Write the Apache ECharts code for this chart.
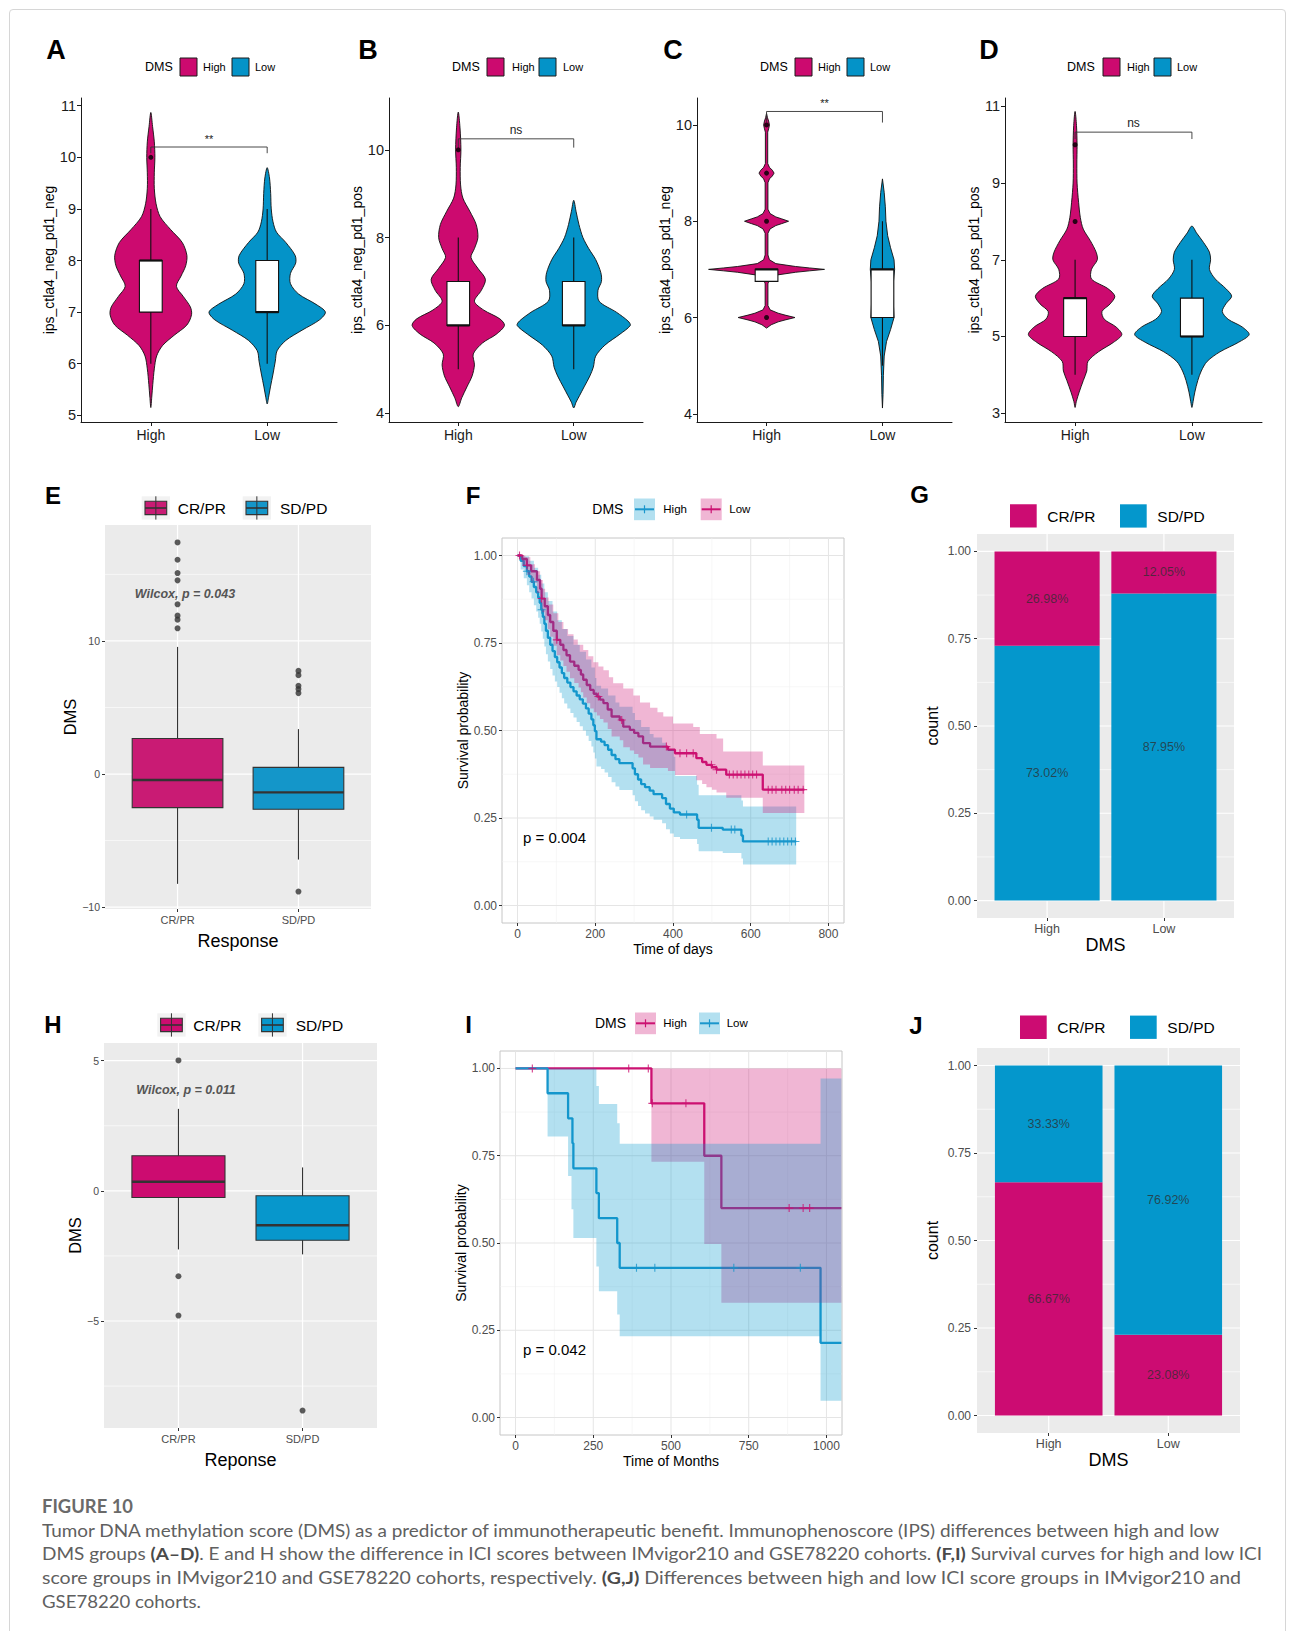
<!DOCTYPE html>
<html>
<head>
<meta charset="utf-8">
<title>Figure 10</title>
<script src="https://cdn.jsdelivr.net/npm/echarts@6.0.0/dist/echarts.min.js"></script>
<style>
  html, body { margin: 0; padding: 0; background: #fff; overflow: hidden; }
  #frame { position: absolute; left: 9px; top: 9px; width: 1277px; height: 1700px; border: 1px solid #d6d6d6; border-radius: 4px; box-sizing: border-box; }
  #chart { position: absolute; left: 0; top: 0; width: 1295px; height: 1631px; }
  .cap { position: absolute; left: 42px; font-family: Lato, 'Open Sans', sans-serif; font-size: 17px; line-height: 23px; color: #606060; white-space: nowrap; transform-origin: 0 50%; }
  .cap b { font-weight: 700; color: #4a4a4a; }
  #fig { top: 1494px; font-size: 19px; line-height: 24px; font-weight: 700; color: #6a6a6a; }
</style>
</head>
<body>
<div id="frame"></div>
<div id="chart"></div>
<div class="cap" id="fig" data-w="91">FIGURE 10</div>
<div class="cap" style="top:1519px" data-w="1177">Tumor DNA methylation score (DMS) as a predictor of immunotherapeutic benefit. Immunophenoscore (IPS) differences between high and low</div>
<div class="cap" style="top:1542px" data-w="1220">DMS groups <b>(A–D)</b>. E and H show the difference in ICI scores between IMvigor210 and GSE78220 cohorts. <b>(F,I)</b> Survival curves for high and low ICI</div>
<div class="cap" style="top:1566px" data-w="1199">score groups in IMvigor210 and GSE78220 cohorts, respectively. <b>(G,J)</b> Differences between high and low ICI score groups in IMvigor210 and</div>
<div class="cap" style="top:1590px" data-w="159">GSE78220 cohorts.</div>
<script>
// ---------- categories ----------
const dmsGroups = ['High', 'Low']
const respGroups = ['CR/PR', 'SD/PD']

// ---------- A-D : violin outlines, [value, half width] from top to bottom ----------
const violinA_high = [[10.87,0],[10.6,0.015],[10.3,0.03],[10.0,0.035],[9.7,0.03],[9.4,0.03],[9.1,0.045],[8.85,0.08],[8.6,0.17],[8.35,0.27],[8.1,0.31],[7.9,0.3],[7.7,0.26],[7.5,0.22],[7.3,0.28],[7.1,0.34],[6.95,0.35],[6.75,0.31],[6.55,0.2],[6.35,0.1],[6.15,0.05],[5.9,0.03],[5.6,0.017],[5.35,0.008],[5.15,0]]
const violinA_low = [[9.8,0],[9.6,0.02],[9.3,0.03],[9.0,0.035],[8.75,0.05],[8.55,0.08],[8.35,0.16],[8.1,0.24],[7.95,0.245],[7.75,0.2],[7.55,0.2],[7.35,0.27],[7.15,0.42],[7.0,0.5],[6.85,0.45],[6.65,0.3],[6.45,0.16],[6.25,0.085],[6.05,0.07],[5.8,0.05],[5.55,0.028],[5.35,0.012],[5.22,0]]
const violinB_high = [[10.86,0],[10.5,0.015],[10.0,0.023],[9.6,0.017],[9.2,0.02],[8.9,0.04],[8.6,0.1],[8.3,0.155],[8.0,0.17],[7.75,0.14],[7.55,0.11],[7.3,0.17],[7.05,0.235],[6.8,0.2],[6.55,0.14],[6.35,0.22],[6.15,0.36],[6.0,0.4],[5.8,0.33],[5.6,0.21],[5.35,0.13],[5.1,0.14],[4.85,0.12],[4.6,0.075],[4.35,0.03],[4.15,0]]
const violinB_low = [[8.85,0],[8.6,0.02],[8.3,0.045],[8.0,0.08],[7.75,0.13],[7.5,0.19],[7.2,0.235],[7.0,0.24],[6.8,0.21],[6.55,0.22],[6.3,0.37],[6.1,0.47],[6.0,0.49],[5.8,0.4],[5.55,0.27],[5.3,0.19],[5.05,0.17],[4.85,0.14],[4.6,0.09],[4.4,0.05],[4.25,0.02],[4.12,0]]
const violinC_high = [[10.24,0],[10.15,0.008],[10.08,0.018],[10.0,0.025],[9.92,0.018],[9.85,0.01],[9.2,0.01],[9.12,0.025],[9.06,0.05],[9.0,0.065],[8.94,0.05],[8.88,0.025],[8.8,0.012],[8.25,0.012],[8.16,0.03],[8.09,0.08],[8.05,0.13],[8.0,0.19],[7.95,0.13],[7.91,0.08],[7.84,0.03],[7.75,0.012],[7.3,0.012],[7.2,0.025],[7.12,0.08],[7.06,0.25],[7.03,0.37],[7.0,0.5],[6.97,0.37],[6.94,0.25],[6.88,0.08],[6.8,0.025],[6.7,0.012],[6.25,0.012],[6.16,0.03],[6.09,0.1],[6.05,0.16],[6.0,0.245],[5.95,0.16],[5.91,0.1],[5.85,0.04],[5.78,0]]
const violinC_low = [[8.88,0],[8.6,0.015],[8.3,0.025],[8.0,0.03],[7.7,0.045],[7.45,0.07],[7.2,0.1],[7.0,0.105],[6.75,0.095],[6.5,0.09],[6.25,0.095],[6.0,0.1],[5.75,0.07],[5.5,0.035],[5.2,0.015],[4.8,0.008],[4.4,0.005],[4.12,0]]
const violinD_high = [[10.87,0],[10.5,0.012],[10.0,0.017],[9.5,0.015],[9.0,0.017],[8.5,0.03],[8.1,0.045],[7.8,0.07],[7.5,0.13],[7.2,0.18],[7.0,0.19],[6.75,0.14],[6.5,0.14],[6.25,0.28],[6.05,0.34],[5.85,0.3],[5.65,0.23],[5.45,0.25],[5.25,0.35],[5.05,0.4],[4.85,0.33],[4.6,0.2],[4.35,0.11],[4.1,0.1],[3.85,0.07],[3.55,0.035],[3.3,0.01],[3.15,0]]
const violinD_low = [[7.88,0],[7.7,0.04],[7.45,0.1],[7.2,0.15],[7.0,0.16],[6.75,0.15],[6.5,0.2],[6.25,0.29],[6.05,0.34],[5.85,0.29],[5.65,0.26],[5.45,0.31],[5.25,0.43],[5.05,0.49],[4.85,0.4],[4.6,0.24],[4.35,0.13],[4.1,0.08],[3.85,0.05],[3.55,0.025],[3.3,0.01],[3.15,0]]

// box stats: [q1, median, q3, lower whisker, upper whisker]
const boxA_high = [7, 8, 8, 6, 9]
const boxA_low = [7, 7, 8, 6, 9]
const boxB_high = [6, 6, 7, 5, 8]
const boxB_low = [6, 6, 7, 5, 8]
const boxC_high = [6.75, 7, 7, 6.75, 7]
const boxC_low = [6, 7, 7, 5, 8]
const boxD_high = [5, 6, 6, 4, 7]
const boxD_low = [5, 5, 6, 4, 7]
const outA_high = [10]
const outB_high = [10]
const outC_high = [6, 8, 9, 10]
const outD_high = [8, 10]
// significance: [label, bracket value, drop value]
const sigA = ['**', 10.2, 10.08]
const sigB = ['ns', 10.25, 10.05]
const sigC = ['**', 10.28, 10.05]
const sigD = ['ns', 10.33, 10.15]
const yTicksA = [5, 6, 7, 8, 9, 10, 11]
const yTicksB = [4, 6, 8, 10]
const yTicksC = [4, 6, 8, 10]
const yTicksD = [3, 5, 7, 9, 11]

// ---------- E / H : DMS by response ----------
const boxE_crpr = [-2.525, -0.45, 2.675, -8.25, 9.55]
const boxE_sdpd = [-2.65, -1.375, 0.5, -6.425, 3.375]
const outE_crpr = [17.4, 16.1, 15.1, 14.55, 12.75, 11.9, 11.6, 10.95]
const outE_sdpd = [7.75, 7.43, 6.63, 6.38, 6.08, -8.83]
const boxH_crpr = [-0.257, 0.347, 1.35, -2.25, 3.15]
const boxH_sdpd = [-1.9, -1.32, -0.19, -2.44, 0.9]
const outH_crpr = [5.01, -3.28, -4.79]
const outH_sdpd = [-8.44]
const yTicksE = [-10, 0, 10]
const yMinorE = [-5, 5, 15]
const yTicksH = [-5, 0, 5]
const yMinorH = [-7.5, -2.5, 2.5]

// ---------- F : survival (days), steps [time, survival] ----------
const kmF_high = [[0,1],[8,0.985],[16,0.97],[24,0.955],[30,0.94],[36,0.925],[42,0.91],[48,0.895],[53,0.88],[57,0.865],[61,0.845],[65,0.825],[69,0.805],[73,0.785],[78,0.765],[84,0.745],[90,0.727],[96,0.71],[102,0.695],[108,0.68],[114,0.664],[120,0.65],[128,0.637],[136,0.624],[144,0.612],[152,0.6],[160,0.589],[168,0.577],[176,0.563],[183,0.548],[190,0.532],[195,0.515],[199,0.498],[203,0.475],[215,0.468],[224,0.458],[233,0.445],[242,0.43],[252,0.418],[262,0.407],[296,0.392],[302,0.375],[310,0.36],[318,0.347],[328,0.338],[340,0.328],[350,0.318],[372,0.307],[382,0.29],[392,0.277],[402,0.266],[418,0.26],[462,0.245],[466,0.222],[528,0.217],[576,0.2],[580,0.183],[717,0.183]]
const kmF_highUpper = [[0,1],[16,0.998],[30,0.985],[42,0.965],[53,0.945],[61,0.92],[69,0.895],[78,0.87],[90,0.84],[102,0.815],[114,0.79],[128,0.77],[144,0.745],[160,0.725],[176,0.703],[190,0.68],[199,0.65],[203,0.628],[215,0.62],[233,0.6],[252,0.58],[262,0.568],[296,0.55],[302,0.53],[318,0.51],[340,0.49],[350,0.48],[372,0.465],[382,0.445],[402,0.425],[406,0.37],[462,0.345],[466,0.315],[576,0.3],[580,0.283],[717,0.283]]
const kmF_highLower = [[0,1],[8,0.96],[16,0.935],[24,0.915],[30,0.895],[36,0.877],[42,0.858],[48,0.84],[53,0.822],[57,0.805],[61,0.783],[65,0.762],[69,0.74],[73,0.718],[78,0.697],[84,0.676],[90,0.657],[96,0.64],[102,0.624],[108,0.608],[114,0.592],[120,0.577],[128,0.563],[136,0.55],[144,0.537],[152,0.524],[160,0.512],[168,0.5],[176,0.485],[183,0.47],[190,0.454],[195,0.437],[199,0.42],[203,0.397],[215,0.39],[224,0.38],[233,0.367],[242,0.352],[252,0.34],[262,0.33],[296,0.315],[302,0.298],[310,0.284],[318,0.272],[328,0.263],[340,0.254],[350,0.245],[372,0.235],[382,0.218],[392,0.206],[402,0.196],[418,0.19],[462,0.176],[466,0.155],[528,0.15],[576,0.134],[580,0.117],[717,0.117]]
const kmF_low = [[0,1],[12,0.99],[24,0.972],[35,0.955],[50,0.93],[58,0.905],[62,0.877],[70,0.855],[78,0.83],[84,0.81],[92,0.785],[101,0.759],[110,0.745],[118,0.73],[126,0.715],[135,0.697],[146,0.685],[157,0.673],[163,0.66],[169,0.645],[178,0.63],[187,0.616],[196,0.605],[204,0.597],[212,0.588],[221,0.578],[232,0.56],[242,0.54],[263,0.53],[272,0.511],[289,0.502],[300,0.493],[311,0.483],[323,0.464],[341,0.454],[387,0.445],[405,0.435],[460,0.421],[475,0.41],[486,0.402],[500,0.395],[512,0.388],[537,0.374],[631,0.331],[738,0.331]]
const kmF_lowUpper = [[0,1],[20,0.995],[33,0.975],[45,0.955],[58,0.93],[65,0.905],[71,0.88],[80,0.86],[92,0.835],[105,0.81],[118,0.79],[130,0.775],[144,0.76],[155,0.745],[169,0.73],[182,0.712],[195,0.695],[208,0.683],[221,0.672],[235,0.652],[246,0.635],[272,0.62],[298,0.6],[315,0.58],[341,0.565],[360,0.552],[375,0.54],[400,0.52],[452,0.51],[469,0.49],[512,0.477],[529,0.44],[631,0.4],[738,0.4]]
const kmF_lowLower = [[0,1],[12,0.97],[24,0.945],[35,0.922],[50,0.893],[58,0.866],[62,0.838],[70,0.815],[78,0.789],[84,0.768],[92,0.742],[101,0.715],[110,0.7],[118,0.684],[126,0.668],[135,0.649],[146,0.636],[157,0.623],[163,0.609],[169,0.594],[178,0.578],[187,0.563],[196,0.552],[204,0.543],[212,0.533],[221,0.523],[232,0.504],[242,0.483],[263,0.472],[272,0.452],[289,0.443],[300,0.433],[311,0.423],[323,0.403],[341,0.393],[387,0.384],[405,0.373],[460,0.358],[475,0.347],[486,0.338],[500,0.331],[512,0.323],[537,0.308],[631,0.264],[738,0.264]]
const censF_high = [24, 41, 62, 435, 499, 550, 559, 645, 655, 665, 675, 685, 695, 705, 715]
const censF_low = [5, 24, 62, 101, 208, 268, 383, 418, 435, 452, 499, 512, 545, 555, 565, 575, 585, 595, 605, 615, 645, 655, 665, 680, 690, 700, 712, 722, 735]
const xTicksF = [0, 200, 400, 600, 800]
const xMinorF = [100, 300, 500, 700]

// ---------- I : survival (months) ----------
const kmI_high = [[0,1],[437,0.9],[607,0.75],[662,0.6],[1048,0.6]]
const kmI_highUpper = [[437,1],[1048,1]]
const kmI_highLower = [[437,0.733],[607,0.497],[662,0.329],[1048,0.329]]
const kmI_low = [[0,1],[103,0.929],[169,0.857],[183,0.786],[186,0.714],[260,0.643],[268,0.571],[327,0.5],[335,0.429],[981,0.214],[1048,0.214]]
const kmI_lowUpper = [[0,1],[260,0.95],[268,0.898],[327,0.843],[335,0.784],[981,0.971],[1048,0.971]]
const kmI_lowLower = [[0,1],[103,0.805],[169,0.692],[180,0.597],[186,0.514],[260,0.433],[268,0.362],[327,0.295],[335,0.233],[981,0.048],[1048,0.048]]
const censI_high = [54, 364, 427, 440, 548, 880, 925, 946]
const censI_low = [389, 448, 702, 916]
const xTicksI = [0, 250, 500, 750, 1000]
const xMinorI = [125, 375, 625, 875]
const yTicksKM = [0, 0.25, 0.5, 0.75, 1]
const yMinorKM = [0.125, 0.375, 0.625, 0.875]

// ---------- G / J : response proportions (%) ----------
const propG_crpr = [26.98, 12.05]
const propG_sdpd = [73.02, 87.95]
const propJ_crpr = [66.67, 23.08]
const propJ_sdpd = [33.33, 76.92]
const yTicksProp = [0, 0.25, 0.5, 0.75, 1]
const yMinorProp = [0.125, 0.375, 0.625, 0.875]

// ---------- drawing ----------
const SANS = "'Liberation Sans', Arial, Helvetica, sans-serif"
const NARROW = "'Liberation Sans Narrow', 'Liberation Sans', Arial, sans-serif"
const PLUS = 'path://M4.3,0H5.7V4.3H10V5.7H5.7V10H4.3V5.7H0V4.3H4.3Z'
const minus = v => (v < 0 ? '\u2212' + (-v) : String(v))

const grids = []
const xAxes = []
const yAxes = []
const series = []
const graphics = []

function addGrid (box, extra) {
  grids.push(Object.assign({ left: box[0], top: box[1], width: box[2], height: box[3], containLabel: false }, extra || {}))
  return grids.length - 1
}

function valueAxis (g, min, max, ticks, fmt, o) {
  return {
    type: 'value', gridIndex: g, min: min, max: max,
    axisLine: { show: !!o.line, onZero: false, lineStyle: { color: '#1a1a1a', width: 1 } },
    axisTick: { show: true, customValues: ticks, length: o.tickLen || 3, lineStyle: { color: o.tickColor || '#333', width: 1 } },
    axisLabel: { show: true, customValues: ticks, formatter: fmt, color: o.labelColor || '#4d4d4d', fontSize: o.labelSize || 11, fontFamily: o.labelFont || SANS, margin: o.margin || 5 },
    splitLine: { show: false },
    name: o.name || '', nameLocation: 'middle', nameGap: o.nameGap || 20,
    nameTextStyle: { fontSize: o.nameSize || 14, color: '#000', fontFamily: SANS }
  }
}

function gridLines (g, xr, yr, xMaj, xMin, yMaj, yMin, cMaj, cMin, wMaj, wMin) {
  const data = []
  xMaj.forEach(v => data.push([0, v, 1]))
  xMin.forEach(v => data.push([0, v, 0]))
  yMaj.forEach(v => data.push([1, v, 1]))
  yMin.forEach(v => data.push([1, v, 0]))
  // minor first so majors lie on top
  data.sort((a, b) => a[2] - b[2])
  return {
    type: 'custom', xAxisIndex: g, yAxisIndex: g, z: 1, silent: true, data: data,
    renderItem: (params, api) => {
      const d = data[params.dataIndex]
      const a = d[0] === 0 ? api.coord([d[1], yr[0]]) : api.coord([xr[0], d[1]])
      const b = d[0] === 0 ? api.coord([d[1], yr[1]]) : api.coord([xr[1], d[1]])
      return { type: 'line', shape: { x1: a[0], y1: a[1], x2: b[0], y2: b[1] }, style: { stroke: d[2] ? cMaj : cMin, lineWidth: d[2] ? wMaj : wMin } }
    }
  }
}

function gText (x, y, text, size, o) {
  o = o || {}
  const al = o.align || 'left'
  graphics.push({
    type: 'text', x: x, y: y, z: 50, silent: true,
    style: { text: text, fill: o.color || '#000', font: (o.style || 'normal') + ' ' + (o.weight || 'normal') + ' ' + size + 'px ' + (o.family || SANS), align: al, verticalAlign: 'middle', textAlign: al, textVerticalAlign: 'middle' }
  })
}
function gRect (x, y, w, h, fill, stroke, lw) {
  graphics.push({ type: 'rect', z: 50, silent: true, shape: { x: x, y: y, width: w, height: h }, style: { fill: fill, stroke: stroke || 'none', lineWidth: lw || 0 } })
}
function gLine (x1, y1, x2, y2, color, lw) {
  graphics.push({ type: 'line', z: 51, silent: true, shape: { x1: x1, y1: y1, x2: x2, y2: y2 }, style: { stroke: color, lineWidth: lw } })
}

// box glyph shared by the violin and response panels
function boxSeries (g, stats, half, fills, stroke, medW) {
  return {
    type: 'custom', xAxisIndex: g, yAxisIndex: g, z: 4, silent: true,
    data: stats.map((s, i) => [i + 1].concat(s)),
    renderItem: (params, api) => {
      const x = api.value(0)
      const q1 = api.value(1); const md = api.value(2); const q3 = api.value(3); const lo = api.value(4); const hi = api.value(5)
      const a = api.coord([x - half, q3]); const b = api.coord([x + half, q1])
      const t = api.coord([x, hi]); const u = api.coord([x, lo])
      const m1 = api.coord([x - half, md]); const m2 = api.coord([x + half, md])
      return {
        type: 'group',
        children: [
          { type: 'line', shape: { x1: t[0], y1: t[1], x2: u[0], y2: u[1] }, style: { stroke: stroke, lineWidth: 1.1 } },
          { type: 'rect', shape: { x: a[0], y: a[1], width: b[0] - a[0], height: b[1] - a[1] }, style: { fill: fills[params.dataIndex], stroke: stroke, lineWidth: 1.1 } },
          { type: 'line', shape: { x1: m1[0], y1: m1[1], x2: m2[0], y2: m2[1] }, style: { stroke: stroke, lineWidth: medW } }
        ]
      }
    }
  }
}

// ---- A-D violins ----
const violinPanels = [
  { box: [81, 98, 256, 324], y: [4.87, 11.15], ticks: yTicksA, name: 'ips_ctla4_neg_pd1_neg', prof: [violinA_high, violinA_low], boxes: [boxA_high, boxA_low], outs: [outA_high, []], sig: sigA, smooth: 0.3, letter: ['A', 56, 50], lg: [145, 180, 203, 232, 255] },
  { box: [389, 98, 254, 324], y: [3.8, 11.18], ticks: yTicksB, name: 'ips_ctla4_neg_pd1_pos', prof: [violinB_high, violinB_low], boxes: [boxB_high, boxB_low], outs: [outB_high, []], sig: sigB, smooth: 0.3, letter: ['B', 368, 50], lg: [452, 487, 512, 539, 563] },
  { box: [697, 98, 255, 324], y: [3.83, 10.56], ticks: yTicksC, name: 'ips_ctla4_pos_pd1_neg', prof: [violinC_high, violinC_low], boxes: [boxC_high, boxC_low], outs: [outC_high, []], sig: sigC, smooth: 0, letter: ['C', 673, 50], lg: [760, 795, 818, 847, 870] },
  { box: [1005, 98, 257, 324], y: [2.77, 11.22], ticks: yTicksD, name: 'ips_ctla4_pos_pd1_pos', prof: [violinD_high, violinD_low], boxes: [boxD_high, boxD_low], outs: [outD_high, []], sig: sigD, smooth: 0.3, letter: ['D', 989, 50], lg: [1067, 1103, 1127, 1154, 1177] }
]
const VCOL = ['#CC0A6F', '#0493C8']

violinPanels.forEach(p => {
  const g = addGrid(p.box)
  xAxes.push(valueAxis(g, 0.4, 2.6, [1, 2], v => dmsGroups[Math.round(v) - 1],
    { line: true, tickLen: 4, tickColor: '#1a1a1a', labelColor: '#1a1a1a', labelSize: 14, margin: 6 }))
  yAxes.push(valueAxis(g, p.y[0], p.y[1], p.ticks, v => String(v),
    { line: true, tickLen: 4, tickColor: '#1a1a1a', labelColor: '#1a1a1a', labelSize: 14.5, margin: 5, name: p.name, nameGap: 21, nameSize: 14 }))
  series.push({
    type: 'custom', xAxisIndex: g, yAxisIndex: g, z: 3, silent: true,
    data: [[1, p.ticks[0]], [2, p.ticks[0]]],
    renderItem: (params, api) => {
      const i = params.dataIndex; const cx = i + 1; const prof = p.prof[i]
      const right = prof.map(d => api.coord([cx + d[1], d[0]]))
      const left = prof.slice(1, -1).reverse().map(d => api.coord([cx - d[1], d[0]]))
      return { type: 'polygon', shape: { points: right.concat(left), smooth: p.smooth }, style: { fill: VCOL[i], stroke: '#111', lineWidth: 0.9 } }
    }
  })
  series.push(boxSeries(g, p.boxes, 0.098, ['#fff', '#fff'], '#111', 2.2))
  const pts = []
  p.outs.forEach((arr, i) => arr.forEach(v => pts.push([i + 1, v])))
  series.push({ type: 'scatter', xAxisIndex: g, yAxisIndex: g, z: 5, silent: true, data: pts, symbolSize: 5, itemStyle: { color: '#000' } })
  series.push({
    type: 'custom', xAxisIndex: g, yAxisIndex: g, z: 5, silent: true,
    data: [[1, p.sig[1], 2, p.sig[2]]],
    renderItem: (params, api) => {
      const l = api.coord([1, p.sig[1]]); const r = api.coord([2, p.sig[1]])
      const ld = api.coord([1, p.sig[2]]); const rd = api.coord([2, p.sig[2]])
      return {
        type: 'group',
        children: [
          { type: 'polyline', shape: { points: [ld, l, r, rd] }, style: { stroke: '#333', lineWidth: 0.9, fill: 'none' } },
          { type: 'text', x: (l[0] + r[0]) / 2, y: l[1] - 3, style: { text: p.sig[0], fill: '#222', font: (p.sig[0] === 'ns' ? 12 : 11) + 'px ' + SANS, align: 'center', verticalAlign: 'bottom', textAlign: 'center', textVerticalAlign: 'bottom' } }
        ]
      }
    }
  })
  gText(p.letter[1], p.letter[2], p.letter[0], 27, { weight: 'bold', align: 'center' })
  const L = p.lg
  gText(L[0], 67, 'DMS', 12.5)
  gRect(L[1], 58, 17, 18, VCOL[0], '#1a1a1a', 1)
  gText(L[2], 67, dmsGroups[0], 11)
  gRect(L[3], 58, 17, 18, VCOL[1], '#1a1a1a', 1)
  gText(L[4], 67, dmsGroups[1], 11)
})

// ---- E / H response boxplots ----
const respPanels = [
  { box: [105, 525, 266, 384], y: [-10.14, 18.71], ticks: yTicksE, minor: yMinorE, xName: 'Response', boxes: [boxE_crpr, boxE_sdpd], outs: [outE_crpr, outE_sdpd], cols: ['#C91B74', '#1496C9'], wilcox: ['Wilcox, p = 0.043', 185, 594], letter: ['E', 53, 495], lg: [508, 141.7, 177.7, 242.7, 280] },
  { box: [104, 1043, 273, 385], y: [-9.11, 5.68], ticks: yTicksH, minor: yMinorH, xName: 'Reponse', boxes: [boxH_crpr, boxH_sdpd], outs: [outH_crpr, outH_sdpd], cols: ['#CC0C70', '#0797CC'], wilcox: ['Wilcox, p = 0.011', 186, 1090], letter: ['H', 53, 1024], lg: [1025, 157.3, 193.3, 258.3, 295.7] }
]
respPanels.forEach(p => {
  const g = addGrid(p.box, { show: true, backgroundColor: '#EBEBEB', borderWidth: 0 })
  xAxes.push(valueAxis(g, 0.4, 2.6, [1, 2], v => respGroups[Math.round(v) - 1],
    { labelSize: 11, margin: 5, name: p.xName, nameGap: 23, nameSize: 18 }))
  yAxes.push(valueAxis(g, p.y[0], p.y[1], p.ticks, minus,
    { labelSize: 10.5, margin: 5, name: 'DMS', nameGap: 19, nameSize: 16.5 }))
  series.push(gridLines(g, [0.4, 2.6], p.y, [1, 2], [], p.ticks, p.minor, '#fff', '#fff', 1.2, 0.6))
  series.push(boxSeries(g, p.boxes, 0.375, p.cols, '#333', 2.4))
  const pts = []
  p.outs.forEach((arr, i) => arr.forEach(v => pts.push([i + 1, v])))
  series.push({ type: 'scatter', xAxisIndex: g, yAxisIndex: g, z: 5, silent: true, data: pts, symbolSize: 6, itemStyle: { color: '#333' } })
  gText(p.wilcox[1], p.wilcox[2], p.wilcox[0], 12.5, { style: 'italic', weight: 'bold', color: '#555', align: 'center' })
  gText(p.letter[1], p.letter[2], p.letter[0], 24, { weight: 'bold', align: 'center' })
  const L = p.lg
  ;[[L[1], L[2], 0], [L[3], L[4], 1]].forEach(k => {
    const x = k[0]; const top = L[0] - 11.7
    gRect(x, top, 28.3, 23.3, '#F2F2F2')
    gLine(x + 14.15, top, x + 14.15, top + 23.3, '#333', 1)
    gRect(x + 3.3, top + 5, 21.7, 13.3, p.cols[k[2]], '#333', 1.1)
    gLine(x + 3.3, L[0], x + 25, L[0], '#333', 1.6)
    gText(k[1], L[0], respGroups[k[2]], 15.5)
  })
})

// ---- F / I survival curves ----
function survAt (steps, t) {
  let s = steps[0][1]
  for (const st of steps) { if (st[0] <= t) s = st[1]; else break }
  return s
}
function stepPoints (steps) {
  const pts = [steps[0]]
  for (let i = 1; i < steps.length; i++) { pts.push([steps[i][0], steps[i - 1][1]]); pts.push(steps[i]) }
  return pts
}
const BAND_BLUE = 'rgba(4,151,204,0.3)'
const BAND_PINK = 'rgba(204,12,114,0.3)'
const LINE_BLUE = '#1A96CC'
const LINE_PINK = '#CC1272'
const kmPanels = [
  { box: [502, 538, 342, 385], x: [-40, 840], xTicks: xTicksF, xMinor: xMinorF, xName: 'Time of days', p: ['p = 0.004', 523, 837], letter: ['F', 473, 495], lg: [509.3, 592.3, 634, 663.3, 700.7, 729.3],
    curves: [
      { steps: kmF_high, upper: kmF_highUpper, lower: kmF_highLower, cens: censF_high, color: LINE_BLUE, band: BAND_BLUE },
      { steps: kmF_low, upper: kmF_lowUpper, lower: kmF_lowLower, cens: censF_low, color: LINE_PINK, band: BAND_PINK }
    ] },
  { box: [500, 1051, 342, 384], x: [-50, 1050], xTicks: xTicksI, xMinor: xMinorI, xName: 'Time of Months', p: ['p = 0.042', 523, 1349], letter: ['I', 468.5, 1024], lg: [1023.3, 595, 635, 663.3, 699, 726.7],
    curves: [
      { steps: kmI_high, upper: kmI_highUpper, lower: kmI_highLower, cens: censI_high, color: LINE_PINK, band: BAND_PINK },
      { steps: kmI_low, upper: kmI_lowUpper, lower: kmI_lowLower, cens: censI_low, color: LINE_BLUE, band: BAND_BLUE }
    ] }
]
kmPanels.forEach(p => {
  const g = addGrid(p.box, { show: true, backgroundColor: '#fff', borderColor: '#c6c6c6', borderWidth: 1 })
  xAxes.push(valueAxis(g, p.x[0], p.x[1], p.xTicks, v => String(v),
    { labelSize: 12, labelFont: NARROW, margin: 5, name: p.xName, nameGap: 19, nameSize: 14 }))
  yAxes.push(valueAxis(g, -0.05, 1.05, yTicksKM, v => v.toFixed(2),
    { labelSize: 12, labelFont: NARROW, margin: 5, name: 'Survival probability', nameGap: 31, nameSize: 14 }))
  series.push(gridLines(g, p.x, [-0.05, 1.05], p.xTicks, p.xMinor, yTicksKM, yMinorKM, '#E5E5E5', '#F2F2F2', 1, 0.6))
  p.curves.forEach(c => {
    series.push({ type: 'line', xAxisIndex: g, yAxisIndex: g, z: 3, silent: true, step: 'end', data: c.steps, symbol: 'none', showSymbol: false, lineStyle: { color: c.color, width: 2.3 } })
    series.push({
      type: 'custom', xAxisIndex: g, yAxisIndex: g, z: 4, silent: true, data: [[c.upper[0][0], c.upper[0][1]]],
      renderItem: (params, api) => {
        const pts = stepPoints(c.upper).concat(stepPoints(c.lower).reverse()).map(q => api.coord(q))
        return { type: 'polygon', shape: { points: pts }, style: { fill: c.band, stroke: 'none' } }
      }
    })
    series.push({ type: 'scatter', xAxisIndex: g, yAxisIndex: g, z: 5, silent: true, data: c.cens.map(t => [t, survAt(c.steps, t)]), symbol: PLUS, symbolSize: 8, itemStyle: { color: c.color } })
  })
  gText(p.p[1], p.p[2], p.p[0], 15)
  gText(p.letter[1], p.letter[2], p.letter[0], 24, { weight: 'bold', align: 'center' })
  const L = p.lg
  gText(L[1], L[0], 'DMS', 14)
  ;[[L[2], L[3], 0], [L[4], L[5], 1]].forEach(k => {
    const c = p.curves[k[2]]
    const x = k[0]; const top = L[0] - 10.8
    gRect(x, top, 21, 21.7, c.band)
    gLine(x + 1, L[0], x + 20, L[0], c.color, 2)
    gLine(x + 10.5, L[0] - 4, x + 10.5, L[0] + 4, c.color, 1.2)
    gText(k[1], L[0], dmsGroups[k[2]], 11.5)
  })
})

// ---- G / J proportion bars ----
const RCOL = ['#CC0C72', '#0497CC']
const propPanels = [
  { box: [977, 534, 257, 384], vals: [propG_crpr, propG_sdpd], order: [1, 0], letter: ['G', 919.5, 494], lg: [516, 1010, 1047.3, 1120, 1157.3] },
  { box: [977, 1048, 263, 385], vals: [propJ_crpr, propJ_sdpd], order: [0, 1], letter: ['J', 916, 1025], lg: [1027.3, 1020, 1057.3, 1130, 1167.3] }
]
propPanels.forEach(p => {
  const g = addGrid(p.box, { show: true, backgroundColor: '#EBEBEB', borderWidth: 0 })
  xAxes.push(valueAxis(g, 0.4, 2.6, [1, 2], v => dmsGroups[Math.round(v) - 1],
    { labelSize: 12.5, margin: 4, name: 'DMS', nameGap: 16, nameSize: 18 }))
  yAxes.push(valueAxis(g, -0.05, 1.05, yTicksProp, v => v.toFixed(2),
    { labelSize: 12, margin: 6, name: 'count', nameGap: 37, nameSize: 16 }))
  series.push(gridLines(g, [0.4, 2.6], [-0.05, 1.05], [1, 2], [], yTicksProp, yMinorProp, '#fff', '#fff', 1.2, 0.6))
  const segs = []
  ;[0, 1].forEach(i => {
    let base = 0
    p.order.forEach(k => {
      const v = p.vals[k][i] / 100
      segs.push([i + 1, base, base + v, k, p.vals[k][i]])
      base += v
    })
  })
  series.push({
    type: 'custom', xAxisIndex: g, yAxisIndex: g, z: 3, silent: true, data: segs,
    renderItem: (params, api) => {
      const s = segs[params.dataIndex]
      const a = api.coord([s[0] - 0.45, s[2]]); const b = api.coord([s[0] + 0.45, s[1]])
      return {
        type: 'group',
        children: [
          { type: 'rect', shape: { x: a[0], y: a[1], width: b[0] - a[0], height: b[1] - a[1] }, style: { fill: RCOL[s[3]] } },
          { type: 'text', x: (a[0] + b[0]) / 2, y: (a[1] + b[1]) / 2, style: { text: s[4].toFixed(2) + '%', fill: 'rgba(45,45,45,0.75)', font: '12.5px ' + SANS, align: 'center', verticalAlign: 'middle', textAlign: 'center', textVerticalAlign: 'middle' } }
        ]
      }
    }
  })
  gText(p.letter[1], p.letter[2], p.letter[0], 24, { weight: 'bold', align: 'center' })
  const L = p.lg
  gRect(L[1], L[0] - 11.7, 26.7, 23.3, RCOL[0])
  gText(L[2], L[0], respGroups[0], 15.5)
  gRect(L[3], L[0] - 11.7, 26.7, 23.3, RCOL[1])
  gText(L[4], L[0], respGroups[1], 15.5)
})

const chart = echarts.init(document.getElementById('chart'), null, { renderer: 'svg' })
chart.setOption({
  animation: false,
  grid: grids,
  xAxis: xAxes,
  yAxis: yAxes,
  series: series,
  graphic: { elements: graphics }
})

// caption lines are stretched to the measured widths of the reference
function fitCaption () {
  document.querySelectorAll('.cap').forEach(el => {
    el.style.transform = 'none'
    const w = el.getBoundingClientRect().width
    const target = parseFloat(el.getAttribute('data-w'))
    if (w > 0) el.style.transform = 'scaleX(' + (target / w).toFixed(4) + ')'
  })
}
fitCaption()
if (document.fonts && document.fonts.ready) document.fonts.ready.then(fitCaption)
</script>
</body>
</html>
